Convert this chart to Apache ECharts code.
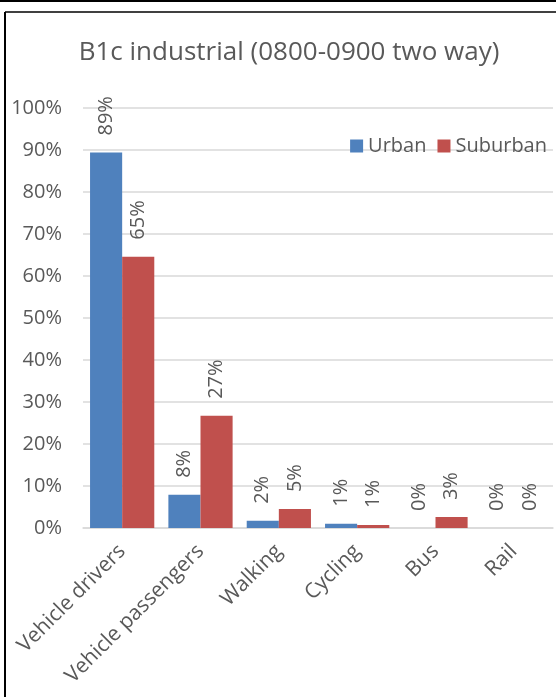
<!DOCTYPE html>
<html>
<head>
<meta charset="utf-8">
<script src="https://cdn.jsdelivr.net/npm/echarts@6/dist/echarts.min.js"></script>
<style>
  html, body { margin: 0; padding: 0; background: #fff; }
  #chart { width: 556px; height: 697px; }
</style>
</head>
<body>
<div id="chart"></div>
<script>
const categories = ['Vehicle drivers', 'Vehicle passengers', 'Walking', 'Cycling', 'Bus', 'Rail'];
const urban = [89.4, 7.9, 1.7, 1.0, 0, 0];
const suburban = [64.6, 26.7, 4.5, 0.7, 2.6, 0];
const yTicks = [0, 10, 20, 30, 40, 50, 60, 70, 80, 90, 100];

const textColor = '#595959';
const fontFamily = '"Open Sans", sans-serif';

const chart = echarts.init(document.getElementById('chart'));

const labelOpt = {
    show: true,
    position: 'top',
    rotate: 90,
    align: 'left',
    verticalAlign: 'middle',
    distance: 17,
    color: textColor,
    fontSize: 20,
    fontFamily: fontFamily,
    formatter: p => Math.round(p.value) + '%'
};

const option = {
    animation: false,
    title: {
        text: 'B1c industrial (0800-0900 two way)',
        left: 284,
        top: 35,
        textAlign: 'center',
        textStyle: { color: textColor, fontSize: 26, fontWeight: 'normal', fontFamily: fontFamily }
    },
    legend: {
        right: 4,
        top: 131,
        itemWidth: 13,
        itemHeight: 13,
        itemGap: 11,
        icon: 'rect',
        textStyle: { color: textColor, fontSize: 20, fontFamily: fontFamily },
        data: ['Urban', 'Suburban']
    },
    grid: { left: 83, right: 3, top: 108, bottom: 169 },
    xAxis: {
        type: 'category',
        data: categories,
        axisLine: { lineStyle: { color: '#d9d9d9', width: 1.5 } },
        axisTick: { show: false },
        axisLabel: { rotate: 45, color: textColor, fontSize: 21, fontFamily: fontFamily, margin: 20 }
    },
    yAxis: {
        type: 'value',
        min: yTicks[0],
        max: yTicks[yTicks.length - 1],
        interval: 10,
        axisLine: { show: false },
        axisTick: { show: false },
        splitLine: { lineStyle: { color: '#d9d9d9', width: 1.5 } },
        axisLabel: { color: textColor, fontSize: 20, fontFamily: fontFamily, margin: 21, formatter: v => v + '%' }
    },
    series: [
        {
            name: 'Urban', type: 'bar', data: urban,
            barGap: '0%', barCategoryGap: '18%',
            itemStyle: { color: '#4f81bd' },
            label: labelOpt
        },
        {
            name: 'Suburban', type: 'bar', data: suburban,
            itemStyle: { color: '#c0504d' },
            label: labelOpt
        }
    ],
    graphic: [
        // frame of the chart box
        { type: 'line', shape: { x1: 5, y1: 12, x2: 556, y2: 12 }, style: { stroke: '#404040', lineWidth: 2 } },
        { type: 'line', shape: { x1: 5, y1: 12, x2: 5, y2: 697 }, style: { stroke: '#000', lineWidth: 2 } },
        // table row above
        { type: 'line', shape: { x1: 0, y1: 1, x2: 556, y2: 1 }, style: { stroke: '#000', lineWidth: 2 } },
        { type: 'line', shape: { x1: 290, y1: 0, x2: 290, y2: 2 }, style: { stroke: '#000', lineWidth: 2 } },
        { type: 'line', shape: { x1: 428, y1: 0, x2: 428, y2: 2 }, style: { stroke: '#000', lineWidth: 2 } }
    ]
};

chart.setOption(option);
</script>
</body>
</html>
